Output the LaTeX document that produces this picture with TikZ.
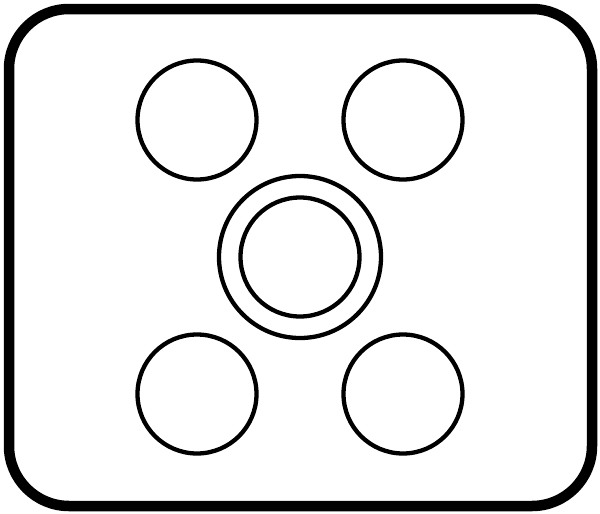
\documentclass[tikz,border=0pt]{standalone}
\usetikzlibrary{positioning}

\tikzset{
  hole/.style={circle, draw, line width=4.3pt, minimum size=119pt, inner sep=0pt},
  ring/.style={circle, draw, line width=4.3pt, minimum size=162pt, inner sep=0pt},
}

\begin{document}
\begin{tikzpicture}[x=1pt, y=-1pt, node distance=1.0cm, on grid]
          \useasboundingbox (0,0) rectangle (600,514);
          \draw [line width=10.5pt, rounded corners=60pt] (9,9) rectangle (592,506);

          \node (hub) [hole] at (300,257) {};
          \node (hubring) [ring] at (hub) {};
          \node (tl) [hole, above left = 137pt and 103pt of hub] {};
          \node (tr) [hole, above right = 137pt and 103pt of hub] {};
          \node (bl) [hole, below left = 137pt and 103pt of hub] {};
          \node (br) [hole, below right = 137pt and 103pt of hub] {};
      \end{tikzpicture}
\end{document}
